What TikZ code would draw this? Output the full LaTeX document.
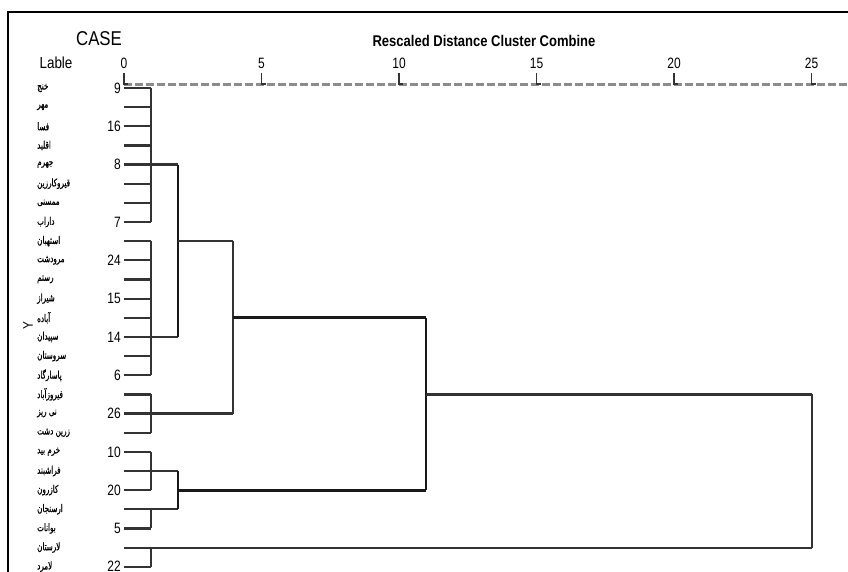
\documentclass[tikz,border=0pt]{standalone}
\usepackage{fontspec}
\setmainfont{Liberation Sans}
\newfontfamily\nar[FakeStretch=0.84]{Liberation Sans}
\newfontfamily\narr[FakeStretch=0.8]{Liberation Sans}
\newfontfamily\fa[Script=Arabic,FakeStretch=0.68,FakeBold=0.8]{DejaVu Sans}
\TeXXeTstate=1
\begin{document}
\begin{tikzpicture}[x=1pt,y=-1pt,
  den/.style={line width=2.2pt,draw=black!80},
  denb/.style={line width=2.8pt,draw=black!90},
  axisdash/.style={line width=3pt,draw=black!45,dash pattern=on 8pt off 3pt},
  tickmark/.style={line width=1.4pt,draw=black!80},
  num/.style={font=\narr\fontsize{15}{15}\selectfont,inner sep=0pt},
  lab/.style={font=\fa\fontsize{10.5}{11}\selectfont,anchor=west,inner sep=0pt}]
\useasboundingbox (0,0) rectangle (848,572);
\fill[white] (0,0) rectangle (848,572);
% frame
\draw[line width=2.8pt] (8,572) -- (8,12) -- (848,12);
% headings
\node[font=\nar\fontsize{20}{20}\selectfont,inner sep=0pt] (case) at (99,39) {CASE};
\node[font=\nar\fontsize{16}{16}\selectfont,inner sep=0pt] (lable) at (56,63) {Lable};
\node[font=\nar\bfseries\fontsize{15.5}{15.5}\selectfont,inner sep=0pt] (title) at (484,41) {Rescaled Distance Cluster Combine};
\node[rotate=90,font=\nar\fontsize{14}{14}\selectfont,inner sep=0pt] (ylab) at (28,326) {Y};
% axis
\draw[axisdash] (124,85) -- (848,85);
\foreach \v in {0,5,...,25}{
  \node[num] (t\v) at ({124+27.5*\v},63) {\v};
  \draw[tickmark] ({124+27.5*\v},73) -- ++(0,11) -- ++(4,0);
}
% columns
\coordinate (c0) at (124,0);
\coordinate (c1) at (151,0);
\coordinate (c2) at (178,0);
\coordinate (c4) at (233,0);
\coordinate (c11) at (426,0);
\coordinate (c25) at (812,0);
% rows, labels
\foreach \t [count=\i from 0] in {خنج,مهر,فسا,اقلید,جهرم,قیروکارزین,ممسنی,داراب,استهبان,مرودشت,رستم,شیراز,آباده,سپیدان,سروستان,پاسارگاد,فیروزآباد,نی ریز,زرین دشت,خرم بید,فراشبند,کازرون,ارسنجان,بوانات,لارستان,لامرد}{
  \coordinate (r\i) at (124,{88+19.15*\i});
  \node[lab] (lab\i) at (37,{88+19.15*\i}) {\beginR\t\endR};
}
\foreach \i/\n in {0/9,2/16,4/8,7/7,9/24,11/15,13/14,15/6,17/26,19/10,21/20,23/5,25/22}{
  \node[num,anchor=east] (num\i) at (121,{88+19.15*\i}) {\n};
}
% leaf lines
\foreach \i in {0,1,2,3,5,6,7,8,9,10,11,12,14,15,16,18,19,21,23,25}{
  \draw[den] (r\i) -- (r\i -| c1);
}
\draw[den] (r4) -- (r4 -| c2);
\draw[den] (r13) -- (r13 -| c2);
\draw[den] (r17) -- (r17 -| c4);
\draw[den] (r20) -- (r20 -| c2);
\draw[den] (r22) -- (r22 -| c2);
\draw[den] (r24) -- (r24 -| c25);
% first level verticals
\draw[den] (r0 -| c1) -- (r7 -| c1);
\draw[den] (r8 -| c1) -- (r15 -| c1);
\draw[den] (r16 -| c1) -- (r18 -| c1);
\draw[den] (r19 -| c1) -- (r21 -| c1);
\draw[den] (r22 -| c1) -- (r23 -| c1);
\draw[den] (r24 -| c1) -- (r25 -| c1);
% higher merges
\draw[denb] (r4 -| c2) -- (r13 -| c2);
\draw[den] (r8 -| c2) -- (r8 -| c4);
\draw[den] (r8 -| c4) -- (r17 -| c4);
\draw[denb] (r12 -| c4) -- (r12 -| c11);
\draw[denb] (r20 -| c2) -- (r22 -| c2);
\draw[denb] (r21 -| c2) -- (r21 -| c11);
\draw[denb] (r12 -| c11) -- (r21 -| c11);
\draw[den] (r16 -| c11) -- (r16 -| c25);
\draw[den] (r16 -| c25) -- (r24 -| c25);
\end{tikzpicture}
\end{document}
